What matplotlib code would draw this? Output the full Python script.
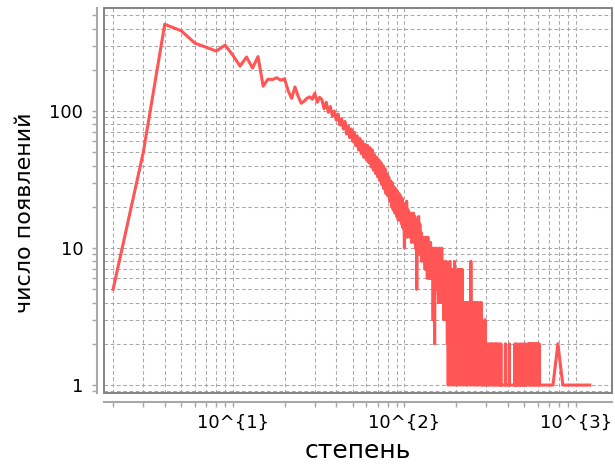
import numpy as np
import matplotlib
matplotlib.use('Agg')
import matplotlib.pyplot as plt
import matplotlib.patches as patches
from matplotlib.ticker import LogLocator, FuncFormatter, NullFormatter


# degree distribution: counts for every degree from 2 to 180
head_deg = np.arange(2, 181)
head_cnt = [5, 50, 430, 385, 313, 292, 274, 303, 255, 213, 248, 206, 250, 152,
            171, 170, 175, 168, 172, 140, 124, 150, 128, 114, 118, 124, 127,
            # 29 - 60
            122, 135, 116, 126, 121, 104, 116, 98, 108, 92, 100, 86, 95, 79,
            88, 74, 84, 68, 78, 64, 74, 60, 70, 56, 66, 52, 63, 49, 60, 46,
            57, 44,
            # 61 - 100
            56, 42, 54, 39, 52, 37, 48, 35, 46, 33, 44, 31, 42, 29, 40, 27,
            38, 25, 35, 24, 33, 22, 31, 20, 30, 19, 28, 18, 27, 17, 26, 16,
            25, 16, 24, 15, 23, 14, 21, 10,
            # 101 - 140
            21, 13, 22, 12, 19, 13, 18, 12, 18, 11, 17, 12, 18, 11, 17, 10,
            16, 5, 15, 10, 17, 9, 15, 10, 13, 8, 12, 9, 12, 8, 11, 7, 12, 8,
            11, 6, 12, 7, 11, 6,
            # 141 - 180
            8, 11, 6, 10, 7, 9, 3, 10, 6, 2, 9, 7, 10, 5, 9, 6, 8, 4, 10, 6,
            8, 4, 7, 5, 10, 4, 7, 5, 8, 3, 6, 3, 7, 4, 8, 3, 6, 2, 7, 1]

# sparse tail: only the degrees that occur
tail1_deg = [181, 183, 184, 186, 187, 189, 190, 192, 193, 195, 196, 198, 199,
             201, 202, 204, 205, 207, 208, 210, 211, 213, 214, 216, 217, 219,
             220, 222, 224, 225, 227, 229, 230, 232, 233, 235, 237, 238, 240,
             241, 243, 244, 246, 248, 249, 251, 253, 254, 256, 258, 259, 261,
             263, 264, 266, 268, 270, 271, 273, 275, 277, 279, 281, 283]
tail1_cnt = [6, 2, 8, 1, 5, 2, 7, 1, 4, 2, 8, 1, 5, 3, 6, 1, 7, 2, 5, 1,
             7, 2, 4, 1, 7, 2, 4, 1, 4, 2, 4, 1, 3, 4, 1, 4, 2, 3, 1, 4,
             2, 8, 1, 4, 2, 3, 1, 4, 2, 4, 1, 3, 4, 1, 2, 4, 1, 3, 2, 4,
             1, 3, 4, 1]

tail2_deg = [285, 287, 290, 292, 295, 298, 300, 303, 306, 309, 311, 314, 317,
             320, 323, 326, 329, 332, 335, 338, 341, 344, 347, 350, 353, 356,
             359, 362]
tail2_cnt = [2, 1, 2, 1, 3, 1, 2, 1, 2, 1, 1, 2, 1, 2, 1, 2, 1, 1, 2, 1,
             2, 1, 2, 1, 1, 2, 1, 1]

tail3_deg = [364, 365, 366, 375, 387, 388, 389, 398, 408, 409, 410, 425,
             440, 441, 442, 447, 452, 453, 454, 462, 471, 472, 473, 480,
             490, 491, 492, 500, 509, 510, 511, 518]
tail3_cnt = [1, 2, 1, 1, 1, 2, 1, 1, 1, 2, 1, 1,
             1, 2, 1, 1, 1, 2, 1, 1, 1, 2, 1, 1,
             1, 2, 1, 1, 1, 2, 1, 1]

tail4_deg = [527, 530, 534, 538, 542, 546, 550, 554, 558, 562, 566, 570,
             575, 579, 584, 588, 593, 597, 602, 606, 610, 614]
tail4_cnt = [2, 1, 2, 1, 2, 1, 2, 1, 2, 1, 2, 1,
             2, 1, 2, 1, 2, 1, 2, 1, 2, 1]

tail5_deg = [640, 690, 735, 785, 839, 900, 980, 1060, 1130, 1205]
tail5_cnt = [1, 1, 1, 2, 1, 1, 1, 1, 1, 1]

degree = np.concatenate([head_deg, tail1_deg, tail2_deg, tail3_deg,
                         tail4_deg, tail5_deg])
count = np.concatenate([head_cnt, tail1_cnt, tail2_cnt, tail3_cnt,
                        tail4_cnt, tail5_cnt])

x_label = 'степень'
y_label = 'число появлений'

axis_grey = '#a8a8a8'
frame_grey = '#7a7a7a'
grid_grey = '#a8a8a8'

fig = plt.figure(figsize=(6.15, 4.70), dpi=100)
ax = fig.add_axes([0.1691, 0.1638, 0.8260, 0.8191])

ax.plot(degree, count, color='#ff5555', lw=2.2, zorder=4)

ax.set_xscale('log')
ax.set_yscale('log')
ax.set_xlim(1.77, 1623)
ax.set_ylim(0.875, 565)

for axis in (ax.xaxis, ax.yaxis):
    axis.set_major_locator(LogLocator(base=10))
    axis.set_minor_locator(LogLocator(base=10, subs=np.arange(2, 10)))
    axis.set_minor_formatter(NullFormatter())
ax.xaxis.set_major_formatter(
    FuncFormatter(lambda v, pos: '10^{%d}' % round(np.log10(v))))
ax.yaxis.set_major_formatter(FuncFormatter(lambda v, pos: '%d' % round(v)))

ax.grid(True, which='both', color=grid_grey, lw=0.75, dashes=(3.5, 2.5))
ax.set_axisbelow(True)

# detached axis lines, plus a closed frame around the plot area
for side in ('top', 'right'):
    ax.spines[side].set_visible(False)
ax.spines['left'].set_position(('outward', 5))
ax.spines['bottom'].set_position(('outward', 6.5))
for side in ('left', 'bottom'):
    ax.spines[side].set_color(axis_grey)
    ax.spines[side].set_linewidth(1.5)
ax.add_patch(patches.Rectangle((0, 0), 1, 1, transform=ax.transAxes,
                               fill=False, ec=frame_grey, lw=1.3,
                               clip_on=False, zorder=5))

ax.tick_params(which='both', direction='out', length=3.5, width=1,
               color=axis_grey, labelsize=13, labelcolor='black')
ax.tick_params(axis='y', pad=6.5)
ax.tick_params(axis='x', pad=5)

ax.set_xlabel(x_label, fontsize=18)
ax.set_ylabel(y_label, fontsize=16)
ax.xaxis.set_label_coords(0.5, -0.12)
ax.yaxis.set_label_coords(-0.136, 0.468)

fig.savefig('out.png', dpi=100)
